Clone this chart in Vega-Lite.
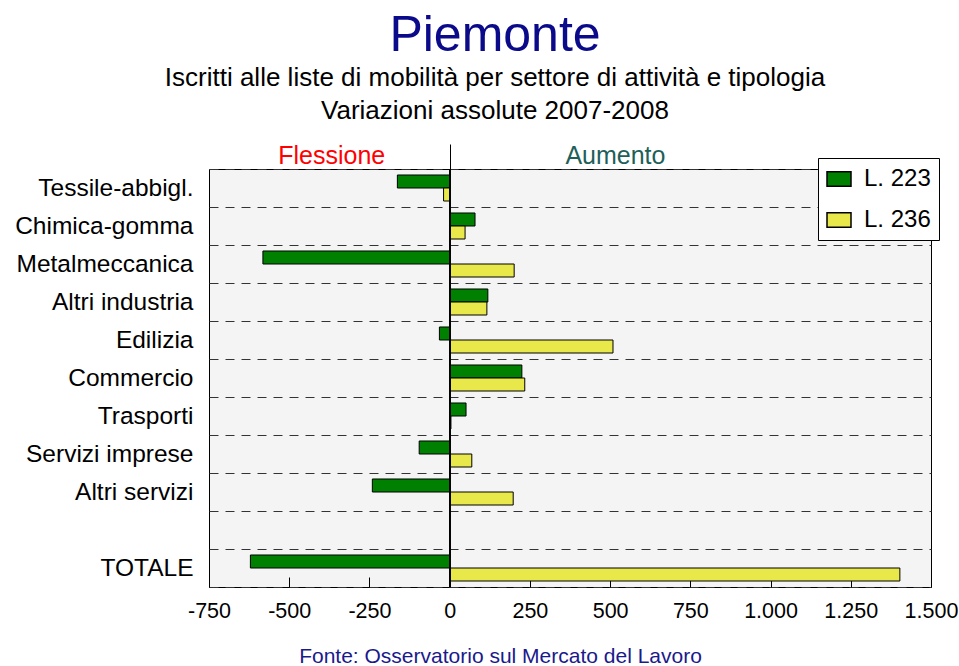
{
  "$schema": "https://vega.github.io/schema/vega-lite/v6.json",
  "autosize": {"type": "none"},
  "padding": {"left": 209, "top": 169, "right": 28, "bottom": 79},
  "width": 722,
  "height": 418,
  "background": "white",
  "config": {
    "font": "Liberation Sans",
    "view": {"fill": "#F4F4F4", "stroke": "#000000", "strokeWidth": 1},
    "legend": {
      "fillColor": "white",
      "strokeColor": "#000000",
      "padding": 8,
      "rowPadding": 16,
      "labelFontSize": 24,
      "labelColor": "#000000",
      "labelOffset": 12,
      "symbolType": "M-1,-0.6H1V0.6H-1Z",
      "symbolSize": 576,
      "symbolStrokeColor": "#000000",
      "symbolStrokeWidth": 1.5,
      "symbolOpacity": 1
    }
  },
  "title": {
    "text": "Piemonte",
    "subtitle": ["Iscritti alle liste di mobilità per settore di attività e tipologia", "Variazioni assolute 2007-2008"],
    "anchor": "middle",
    "frame": "group",
    "dx": -75,
    "offset": 19,
    "fontSize": 50,
    "fontWeight": "normal",
    "color": "#0A0A8A",
    "subtitleFontSize": 26,
    "subtitleColor": "#000000",
    "subtitleLineHeight": 33,
    "subtitlePadding": 4
  },
  "data": {
    "values": [
      {"settore": "Tessile-abbigl.", "legge": "L. 223", "valore": -163},
      {"settore": "Tessile-abbigl.", "legge": "L. 236", "valore": -19},
      {"settore": "Chimica-gomma", "legge": "L. 223", "valore": 79},
      {"settore": "Chimica-gomma", "legge": "L. 236", "valore": 48},
      {"settore": "Metalmeccanica", "legge": "L. 223", "valore": -582},
      {"settore": "Metalmeccanica", "legge": "L. 236", "valore": 201},
      {"settore": "Altri industria", "legge": "L. 223", "valore": 119},
      {"settore": "Altri industria", "legge": "L. 236", "valore": 116},
      {"settore": "Edilizia", "legge": "L. 223", "valore": -32},
      {"settore": "Edilizia", "legge": "L. 236", "valore": 509},
      {"settore": "Commercio", "legge": "L. 223", "valore": 225},
      {"settore": "Commercio", "legge": "L. 236", "valore": 234},
      {"settore": "Trasporti", "legge": "L. 223", "valore": 51},
      {"settore": "Trasporti", "legge": "L. 236", "valore": 4},
      {"settore": "Servizi imprese", "legge": "L. 223", "valore": -95},
      {"settore": "Servizi imprese", "legge": "L. 236", "valore": 69},
      {"settore": "Altri servizi", "legge": "L. 223", "valore": -241},
      {"settore": "Altri servizi", "legge": "L. 236", "valore": 198},
      {"settore": "TOTALE", "legge": "L. 223", "valore": -621},
      {"settore": "TOTALE", "legge": "L. 236", "valore": 1403}
    ]
  },
  "layer": [
    {
      "mark": {"type": "bar", "stroke": "#000000", "strokeWidth": 1},
      "encoding": {
        "y": {
          "field": "settore",
          "type": "nominal",
          "scale": {
            "domain": ["Tessile-abbigl.", "Chimica-gomma", "Metalmeccanica", "Altri industria", "Edilizia", "Commercio", "Trasporti", "Servizi imprese", "Altri servizi", " ", "TOTALE"],
            "paddingInner": 0,
            "paddingOuter": 0
          },
          "axis": {
            "title": null,
            "orient": "left",
            "labelFontSize": 24.5,
            "labelColor": "#000000",
            "labelPadding": 16,
            "ticks": false,
            "domain": false,
            "grid": true,
            "tickBand": "extent",
            "gridColor": "#333333",
            "gridDash": [9, 7],
            "gridWidth": 1,
            "labelLimit": 300
          }
        },
        "yOffset": {
          "field": "legge",
          "type": "nominal",
          "scale": {"domain": ["L. 223", "L. 236"], "paddingInner": 0, "paddingOuter": 0.46}
        },
        "x": {
          "field": "valore",
          "type": "quantitative",
          "scale": {"domain": [-750, 1500], "nice": false, "zero": false},
          "axis": {
            "orient": "bottom",
            "values": [-750, -500, -250, 0, 250, 500, 750, 1000, 1250, 1500],
            "labelExpr": "replace(replace(format(datum.value, ','), ',', '.'), '\u2212', '-')",
            "labelFontSize": 21.5,
            "labelColor": "#000000",
            "labelFlush": false,
            "labelOverlap": false,
            "labelBaseline": "top",
            "labelPadding": 23,
            "tickSize": -10,
            "tickColor": "#000000",
            "domain": false,
            "grid": false,
            "title": "Fonte: Osservatorio sul Mercato del Lavoro",
            "titleFontSize": 21,
            "titleFontWeight": "normal",
            "titleColor": "#1A1A8C",
            "titleX": 291,
            "titleY": 75,
            "titleBaseline": "alphabetic",
            "titleAlign": "center"
          }
        },
        "color": {
          "field": "legge",
          "type": "nominal",
          "scale": {"domain": ["L. 223", "L. 236"], "range": ["#008000", "#E8E84A"]},
          "legend": {"title": null, "orient": "none", "legendX": 609, "legendY": -11}
        }
      }
    },
    {
      "mark": {"type": "rule", "color": "#000000", "strokeWidth": 1},
      "encoding": {
        "x": {
          "datum": 0,
          "type": "quantitative",
          "axis": {
            "orient": "top",
            "values": [-369, 0, 515],
            "labelExpr": "datum.value == 0 ? '' : (datum.value < 0 ? 'Flessione' : 'Aumento')",
            "labelColor": {"expr": "datum.value < 0 ? '#FF0000' : '#1F5F5A'"},
            "labelFontSize": 25,
            "labelBaseline": "alphabetic",
            "labelPadding": -19,
            "labelFlush": false,
            "labelOverlap": false,
            "tickSize": 25,
            "tickColor": {"expr": "datum.value == 0 ? '#000000' : 'transparent'"},
            "domain": false,
            "grid": false,
            "title": null
          }
        }
      }
    }
  ],
  "resolve": {"axis": {"x": "independent"}}
}
